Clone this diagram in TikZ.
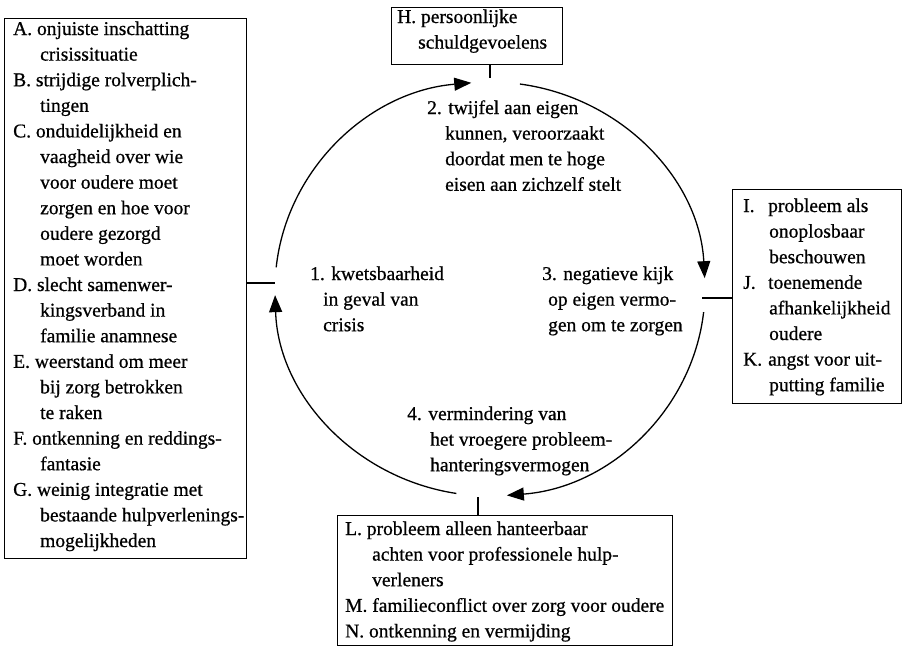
\documentclass[tikz,border=0pt]{standalone}
\usepackage{fontspec}
\setmainfont{Liberation Serif}[FakeBold=0.7]
\usetikzlibrary{arrows.meta,calc}
\newcommand{\lbl}[1]{\makebox[25pt][l]{#1}}
\newcommand{\ind}[1]{\hspace*{#1pt}}
\begin{document}
\begin{tikzpicture}[x=1pt,y=-1pt,
  box/.style={draw,line width=1.2pt,inner sep=0pt,anchor=north west},
  txt/.style={align=left,inner sep=0pt,anchor=base west,font=\fontsize{19.5}{25.6}\selectfont},
  cyc/.style={line width=1.3pt,-{Triangle[length=17pt,width=13pt]}},
  tick/.style={line width=1.2pt}]
\useasboundingbox (0,0) rectangle (903,649);
% boxes
\node[box,minimum width=242pt,minimum height=540pt] (boxL) at (4,18) {};
\node[box,minimum width=171pt,minimum height=57pt] (boxH) at (391,7) {};
\node[box,minimum width=169pt,minimum height=214pt] (boxR) at (732,189) {};
\node[box,minimum width=335pt,minimum height=130pt] (boxB) at (337,515) {};
% box texts (anchor = baseline of last line)
\node[txt] (tL) at (13,547) {A. onjuiste inschatting\\\ind{27}crisissituatie\\
B. strijdige rolverplich-\\\ind{27}tingen\\
C. onduidelijkheid en\\\ind{27}vaagheid over wie\\\ind{27}voor oudere moet\\\ind{27}zorgen en hoe voor\\\ind{27}oudere gezorgd\\\ind{27}moet worden\\
D. slecht samenwer-\\\ind{27}kingsverband in\\\ind{27}familie anamnese\\
E. weerstand om meer\\\ind{27}bij zorg betrokken\\\ind{27}te raken\\
F. ontkenning en reddings-\\\ind{27}fantasie\\
G. weinig integratie met\\\ind{27}bestaande hulpverlenings-\\\ind{27}mogelijkheden};
\node[txt] (tH) at (397,48.6) {H. persoonlijke\\\ind{21}schuldgevoelens};
\node[txt] (tR) at (743,391.2) {\lbl{I.}probleem als\\\ind{26}onoplosbaar\\\ind{26}beschouwen\\
\lbl{J.}toenemende\\\ind{26}afhankelijkheid\\\ind{26}oudere\\
\lbl{K.}angst voor uit-\\\ind{26}putting familie};
\node[txt] (tB) at (345,637.4) {L. probleem alleen hanteerbaar\\\ind{27}achten voor professionele hulp-\\\ind{27}verleners\\
M. familieconflict over zorg voor oudere\\
N. ontkenning en vermijding};
% cycle texts
\node[txt] (s1) at (310,331.2) {1. kwetsbaarheid\\\ind{13}in geval van\\\ind{13}crisis};
\node[txt] (s2) at (427,190.8) {2. twijfel aan eigen\\\ind{18}kunnen, veroorzaakt\\\ind{18}doordat men te hoge\\\ind{18}eisen aan zichzelf stelt};
\node[txt] (s3) at (542,331.2) {3. negatieve kijk\\\ind{6}op eigen vermo-\\\ind{6}gen om te zorgen};
\node[txt] (s4) at (407,471.2) {4. vermindering van\\\ind{23}het vroegere probleem-\\\ind{23}hanteringsvermogen};
% cycle
\coordinate (c) at (490,289);
\draw[cyc] ($(c)+(186:215 and 207)$) arc[start angle=186,end angle=265,x radius=215,y radius=207];
\draw[cyc] ($(c)+(278:215 and 207)$) arc[start angle=278,end angle=357,x radius=215,y radius=207];
\draw[cyc] ($(c)+(6.4:215 and 207)$) arc[start angle=6.4,end angle=85.5,x radius=215,y radius=207];
\draw[cyc] ($(c)+(99:215 and 207)$) arc[start angle=99,end angle=178.3,x radius=215,y radius=207];
% ticks
\coordinate (gl) at (275,283);
\coordinate (gt) at (490,78);
\coordinate (gr) at (702,298);
\coordinate (gb) at (478,497);
\draw[tick] (boxL.east |- gl) -- (gl);
\draw[tick] (boxH.south -| gt) -- (gt);
\draw[tick] (gr) -- (boxR.west |- gr);
\draw[tick] (gb) -- (boxB.north -| gb);
\end{tikzpicture}
\end{document}
